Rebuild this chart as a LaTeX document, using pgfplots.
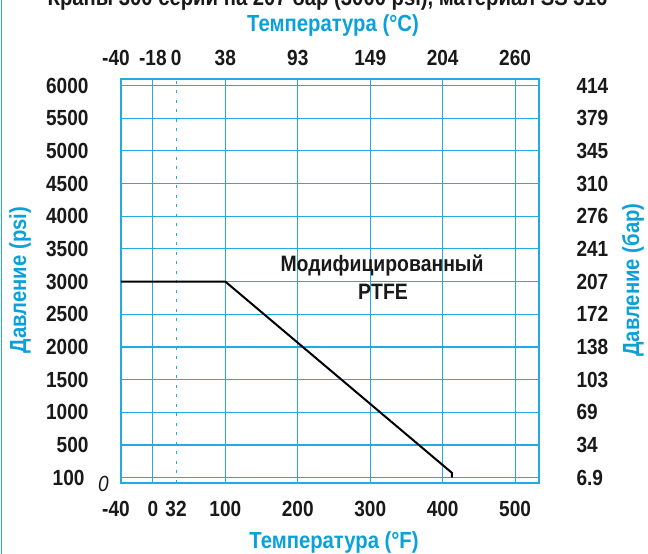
\documentclass[border=0pt]{standalone}
\usepackage{fontspec}
\setmainfont{Liberation Sans}[FakeStretch=0.87]
\usepackage{pgfplots}
\pgfplotsset{compat=1.18}
\definecolor{gridblue}{RGB}{35,170,225}
\definecolor{textblue}{RGB}{10,160,218}
\newcommand{\lbl}{\fontsize{21.9}{25}\selectfont\bfseries}
\newcommand{\ann}{\fontsize{22.3}{26}\selectfont\bfseries}
\newcommand{\ttl}{\fontsize{23.3}{27}\selectfont\bfseries}
\begin{document}
\begin{tikzpicture}[x=1pt,y=1pt]
\begin{axis}[
  at={(121pt,71pt)}, anchor=south west,
  scale only axis, width=418pt, height=404pt,
  xmin=-44, xmax=533, ymin=-81, ymax=6099,
  xtick={-44,0,100,200,300,400,500},
  xticklabels={{\kern-10pt-40},0,100,200,300,400,500},
  extra x ticks={32}, extra x tick labels={32},
  extra x tick style={grid style={gridblue, line width=1.1pt, dash pattern=on 3pt off 6.5pt}},
  ytick={0,500,1000,1500,2000,2500,3000,3500,4000,4500,5000,5500,6000},
  yticklabels={{100\kern4pt},500,1000,1500,2000,2500,3000,3500,4000,4500,5000,5500,6000},
  grid=major, grid style={gridblue, line width=1.1pt},
  axis line style={gridblue, line width=1.3pt},
  major tick length=0pt,
  tick label style={font=\lbl, text=black!90},
  xticklabel style={yshift=-15pt},
  yticklabel style={xshift=-29pt},
]
\addplot[black, line width=2pt, line join=miter] coordinates {(-44,3000) (100,3000) (412.6,76) (412.6,0)};
\end{axis}
\begin{axis}[
  at={(121pt,71pt)}, anchor=south west,
  scale only axis, width=418pt, height=404pt,
  xmin=-44, xmax=533, ymin=-81, ymax=6099,
  xtick={-44,0,32,100,200,300,400,500},
  xticklabels={{\kern-10pt-40},-18,0,38,93,149,204,260},
  xticklabel pos=upper,
  ytick={0,500,1000,1500,2000,2500,3000,3500,4000,4500,5000,5500,6000},
  yticklabels={6.9,34,69,103,138,172,207,241,276,310,345,379,414},
  yticklabel pos=right,
  axis line style={draw=none},
  major tick length=0pt,
  tick label style={font=\lbl, text=black!90},
  xticklabel style={yshift=9.5pt},
  yticklabel style={anchor=west, xshift=34pt},
]
\end{axis}
\node[font=\ttl, text=black!90, anchor=base, inner sep=0] at (327.5,548.5) {Краны 300 серии на 207 бар (3000 psi), материал SS 316};
\node[font=\ttl, text=textblue, anchor=base, inner sep=0] at (333,522.5) {Температура (°C)};
\node[font=\ttl, text=textblue, anchor=base, inner sep=0] at (334,5) {Температура (°F)};
\node[font=\ttl, text=textblue, anchor=base, inner sep=0, rotate=90] at (26,274) {Давление (psi)};
\node[font=\ttl, text=textblue, anchor=base, inner sep=0, rotate=90] at (639,274) {Давление (бар)};
\node[font=\ann, text=black!90, anchor=base, inner sep=0] at (382,282) {Модифицированный};
\node[font=\ann, text=black!90, anchor=base, inner sep=0] at (383,254) {PTFE};
\node[font=\fontsize{21.9}{25}\selectfont\itshape, text=black!90, anchor=base, inner sep=0] at (103.5,62) {0};
\draw[gridblue, line width=1.6pt] (1.5,0) -- (1.5,554);
\pgfresetboundingbox
\useasboundingbox (0,0) rectangle (648,554);
\end{tikzpicture}
\end{document}
